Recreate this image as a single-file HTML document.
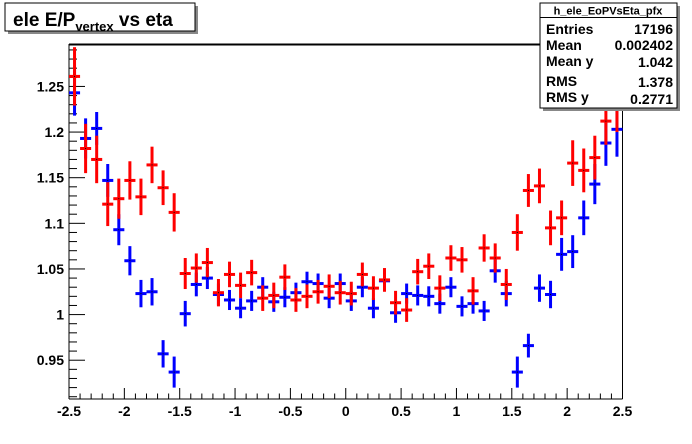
<!DOCTYPE html>
<html><head><meta charset="utf-8">
<style>
html,body{margin:0;padding:0;background:#fff;}
svg{display:block;font-family:"Liberation Sans",Arial,sans-serif;}
</style></head>
<body>
<svg id="chart" width="692" height="444" viewBox="0 0 692 444" xmlns="http://www.w3.org/2000/svg">
  <rect x="0" y="0" width="692" height="444" fill="#fff"/>
  <g id="frame">
    <line x1="69" y1="44.5" x2="622.5" y2="44.5" stroke="#000" stroke-width="2"/>
    <line x1="622.5" y1="44" x2="622.5" y2="399" stroke="#000" stroke-width="1"/>
    <line x1="69" y1="44" x2="69" y2="399" stroke="#000" stroke-width="1"/>
    <line x1="69" y1="399" x2="622.5" y2="399" stroke="#000" stroke-width="1"/>
  </g>
  <g id="axes"></g>
  <g id="series-red"></g>
  <g id="series-blue"></g>
  <g>
    <rect x="8" y="6" width="190" height="28" fill="#888"/>
    <rect x="5" y="3" width="190" height="28" fill="#fff" stroke="#000" stroke-width="1"/>
    <text x="13" y="26" font-size="19" font-weight="bold">ele E/P<tspan font-size="13" dy="5">vertex</tspan><tspan dy="-5"> vs eta</tspan></text>
  </g>
  <g font-weight="bold">
    <rect x="543" y="6" width="137" height="105" fill="#888"/>
    <rect x="540" y="3" width="137" height="105" fill="#fff" stroke="#000" stroke-width="1"/>
    <line x1="540" y1="17.5" x2="677" y2="17.5" stroke="#000"/>
    <text x="608" y="14.5" font-size="11" text-anchor="middle">h_ele_EoPVsEta_pfx</text>
    <text x="546" y="34" font-size="14">Entries</text>
    <text x="673" y="34" font-size="14" text-anchor="end">17196</text>
    <text x="546" y="50" font-size="14">Mean</text>
    <text x="673" y="50" font-size="14" text-anchor="end">0.002402</text>
    <text x="546" y="66" font-size="14">Mean y</text>
    <text x="673" y="67" font-size="14" text-anchor="end">1.042</text>
    <text x="546" y="86" font-size="14">RMS</text>
    <text x="673" y="87" font-size="14" text-anchor="end">1.378</text>
    <text x="546" y="102" font-size="14">RMS y</text>
    <text x="673" y="104" font-size="14" text-anchor="end">0.2771</text>
  </g>
</svg>
<script>
const etaCenters = [-2.45,-2.35,-2.25,-2.15,-2.05,-1.95,-1.85,-1.75,-1.65,-1.55,-1.45,-1.35,-1.25,-1.15,-1.05,-0.95,-0.85,-0.75,-0.65,-0.55,-0.45,-0.35,-0.25,-0.15,-0.05,0.05,0.15,0.25,0.35,0.45,0.55,0.65,0.75,0.85,0.95,1.05,1.15,1.25,1.35,1.45,1.55,1.65,1.75,1.85,1.95,2.05,2.15,2.25,2.35,2.45];
const redValues = [1.261,1.182,1.170,1.121,1.127,1.147,1.129,1.164,1.139,1.112,1.045,1.051,1.057,1.024,1.044,1.032,1.046,1.018,1.021,1.041,1.016,1.020,1.025,1.031,1.024,1.023,1.044,1.029,1.038,1.013,1.005,1.047,1.053,1.029,1.062,1.060,1.026,1.073,1.062,1.033,1.090,1.136,1.141,1.095,1.106,1.166,1.158,1.172,1.212,1.230];
const redErrors = [0.032,0.027,0.026,0.024,0.022,0.021,0.020,0.020,0.019,0.021,0.017,0.016,0.016,0.015,0.014,0.014,0.014,0.014,0.014,0.014,0.013,0.013,0.013,0.013,0.013,0.013,0.013,0.013,0.013,0.013,0.013,0.014,0.014,0.014,0.014,0.014,0.015,0.015,0.016,0.017,0.020,0.018,0.019,0.019,0.019,0.025,0.024,0.024,0.026,0.030];
const blueValues = [1.243,1.193,1.204,1.147,1.093,1.059,1.023,1.025,0.957,0.937,1.001,1.033,1.040,1.022,1.016,1.007,1.015,1.030,1.014,1.019,1.024,1.036,1.034,1.018,1.034,1.015,1.030,1.007,1.037,1.002,1.023,1.021,1.020,1.012,1.030,1.009,1.012,1.004,1.048,1.023,0.937,0.966,1.029,1.022,1.066,1.069,1.106,1.143,1.188,1.203];
const blueErrors = [0.025,0.022,0.018,0.018,0.017,0.016,0.015,0.015,0.015,0.017,0.014,0.013,0.012,0.012,0.011,0.011,0.011,0.011,0.011,0.011,0.011,0.011,0.011,0.011,0.011,0.011,0.011,0.011,0.011,0.011,0.011,0.011,0.011,0.011,0.011,0.011,0.011,0.011,0.013,0.014,0.017,0.013,0.015,0.015,0.018,0.018,0.019,0.022,0.025,0.030];
const xTickLabels = [-2.5,-2,-1.5,-1,-0.5,0,0.5,1,1.5,2,2.5];
const yTickLabels = [0.95,1,1.05,1.1,1.15,1.2,1.25];

const NS = "http://www.w3.org/2000/svg";
const X0 = 69, X1 = 622.5, Y0 = 399, Y1 = 44;
const xMin = -2.5, xMax = 2.5, yMin = 0.9075, yMax = 1.2965;
function xScale(v){ return X0 + (v - xMin) / (xMax - xMin) * (X1 - X0); }
function yScale(v){ return Y0 - (v - yMin) / (yMax - yMin) * (Y0 - Y1); }
function mk(tag, attrs, parent){
  const e = document.createElementNS(NS, tag);
  for (const k in attrs) e.setAttribute(k, attrs[k]);
  parent.appendChild(e);
  return e;
}
const axes = document.getElementById('axes');
// x ticks
for (let i = 0; i <= 50; i++) {
  const v = xMin + i * 0.1;
  const major = i % 5 === 0;
  const t = mk('line', {x1: xScale(v), x2: xScale(v), y1: Y0, y2: Y0 - (major ? 11 : 5.5), stroke: '#000', 'stroke-width': 1}, axes);
  
  
}
xTickLabels.forEach(v => {
  const t = mk('text', {x: xScale(v), y: 416, 'font-size': 14, 'font-weight': 'bold', 'text-anchor': 'middle'}, axes);
  t.textContent = String(v);
  
  
});
// y ticks
for (let i = 91; i <= 129; i++) {
  const v = i / 100;
  const major = i % 5 === 0;
  const t = mk('line', {x1: X0, x2: X0 + (major ? 16 : 8), y1: yScale(v), y2: yScale(v), stroke: '#000', 'stroke-width': 1}, axes);
  
  
}
yTickLabels.forEach(v => {
  const t = mk('text', {x: 64, y: yScale(v) + 5, 'font-size': 14, 'font-weight': 'bold', 'text-anchor': 'end'}, axes);
  t.textContent = String(v);
  
  
});
function drawSeries(gid, vals, errs, color, name){
  const g = document.getElementById(gid);
  vals.forEach((v, i) => {
    const cx = xScale(etaCenters[i]);
    const cy = yScale(v);
    const pt = mk('g', {}, g);
    
    
    const top = Math.max(Y1 + 1, yScale(v + errs[i]));
    mk('line', {x1: cx, x2: cx, y1: top, y2: yScale(v - errs[i]), stroke: color, 'stroke-width': 3}, pt);
    mk('line', {x1: xScale(etaCenters[i] - 0.05), x2: xScale(etaCenters[i] + 0.05), y1: cy, y2: cy, stroke: color, 'stroke-width': 3}, pt);
    mk('rect', {x: cx - 0.5, y: cy - 0.5, width: 1, height: 1, fill: '#000'}, pt);
  });
}
drawSeries('series-blue', blueValues, blueErrors, '#0000ff', 'blue');
drawSeries('series-red', redValues, redErrors, '#ff0000', 'red');
// draw blue on top of red? In reference red mostly on top; keep red after blue.
const svg = document.getElementById('chart');
svg.insertBefore(document.getElementById('series-blue'), document.getElementById('series-red'));
</script>
</body></html>
